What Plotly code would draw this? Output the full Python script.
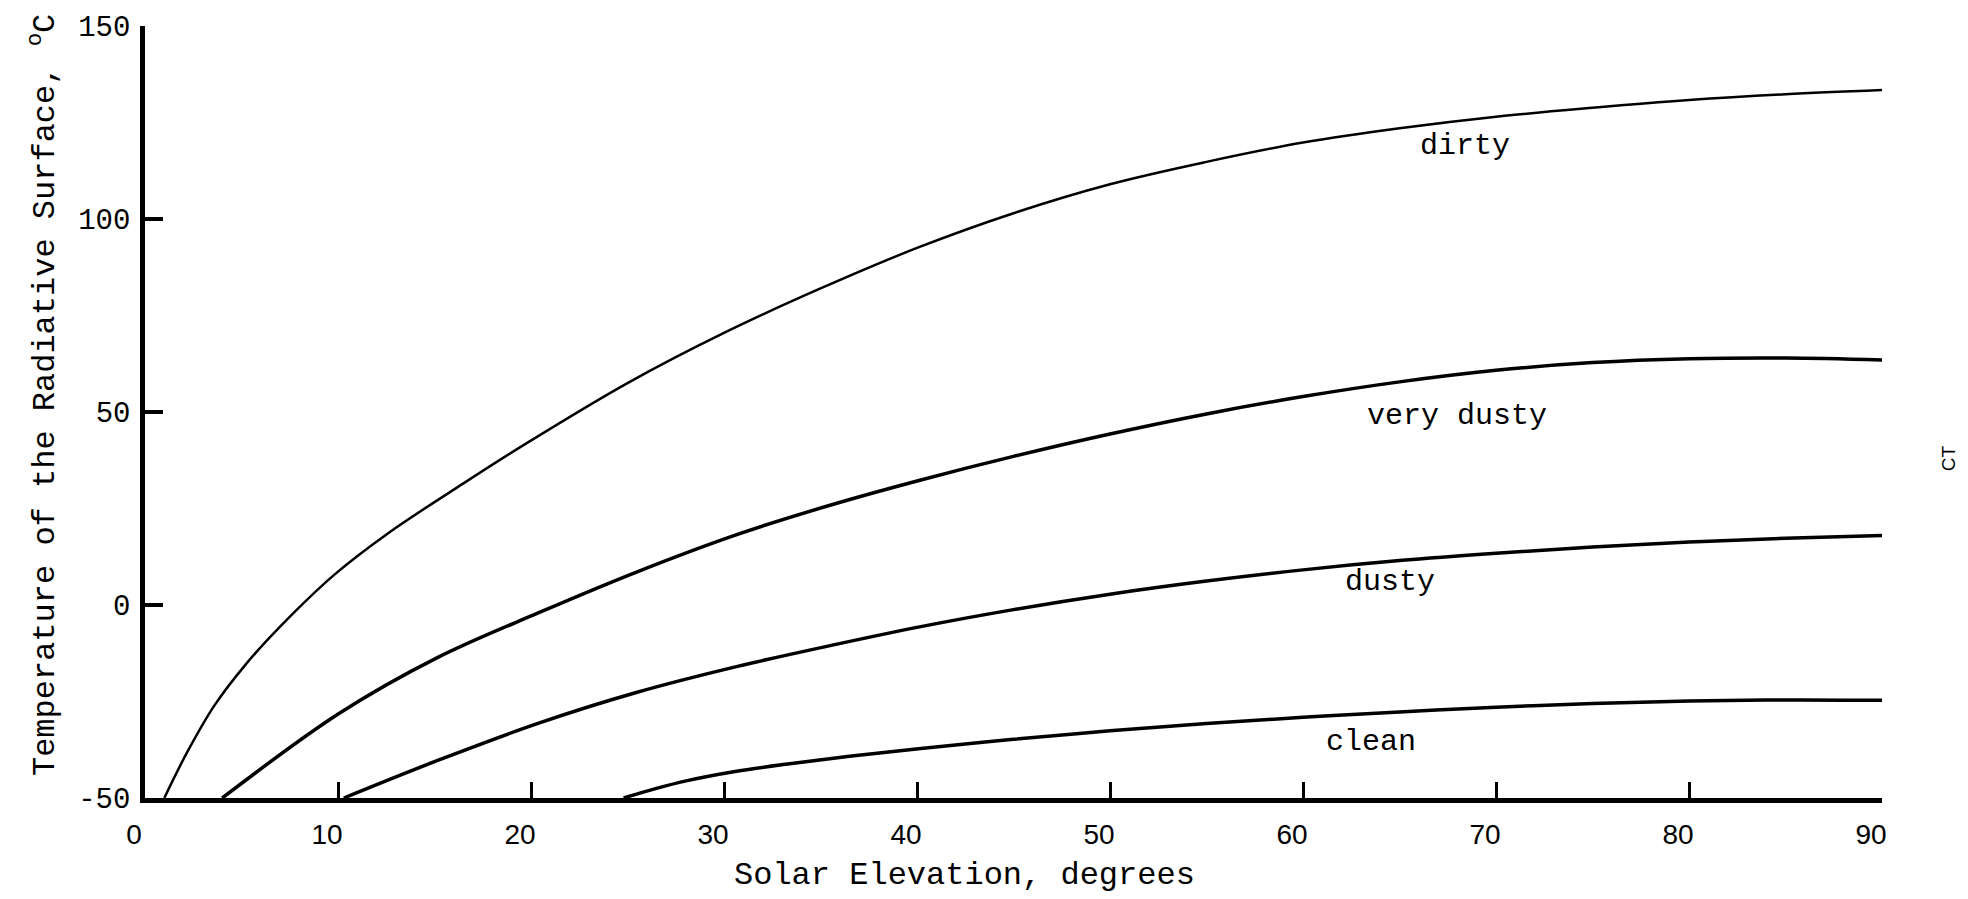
import plotly.graph_objects as go

# ---- data ----
dirty_x = [1.0, 2.2, 3.6, 5.2, 7.0, 9.8, 12.6, 16.5, 19.8, 25, 30, 35, 40, 45, 50, 55, 60, 65, 70, 75, 80, 85, 90]
dirty_y = [-50, -38.0, -26.0, -15.5, -5.6, 7.8, 18.6, 31.5, 42.0, 57.5, 70.5, 82.0, 92.5, 101.5, 109.0, 114.8, 119.8, 123.5, 126.5, 128.8, 130.8, 132.3, 133.4]

vdusty_x = [4.0, 10.05, 15.2, 20.4, 25.5, 30.7, 35.8, 40.2, 45, 50, 55, 60, 65, 70, 75, 80, 85, 90]
vdusty_y = [-50, -28.1, -13.5, -2.0, 8.6, 18.3, 26.3, 32.4, 38.5, 44.3, 49.5, 54.0, 57.8, 60.8, 62.8, 63.8, 64.0, 63.5]

dusty_x = [10.3, 15.2, 20.4, 25.5, 30.7, 35.8, 40.2, 45, 50, 55, 60, 65, 70, 75, 80, 85, 90]
dusty_y = [-50, -40.2, -30.6, -22.6, -15.9, -10.2, -5.6, -1.2, 2.8, 6.2, 9.1, 11.5, 13.4, 15.0, 16.3, 17.3, 18.0]

clean_x = [24.8, 26.5, 28.1, 30.5, 33.3, 36.5, 40.2, 45, 50, 55, 60, 65, 70, 75, 80, 85, 90]
clean_y = [-50, -47.5, -45.5, -43.2, -41.2, -39.2, -37.2, -34.8, -32.6, -30.7, -29.1, -27.7, -26.5, -25.5, -24.9, -24.6, -24.7]

label_text = ["dirty", "very dusty", "dusty", "clean"]
label_x = [68.4, 68.0, 64.5, 63.5]
label_y = [118.9, 49.0, 6.0, -35.5]

x_ticks = [0, 10, 20, 30, 40, 50, 60, 70, 80, 90]
y_ticks = [-50, 0, 50, 100, 150]

MONO = "Liberation Mono, Courier New, monospace"
SANS = "Liberation Sans, Arial, sans-serif"

fig = go.Figure()
series = [
    (dirty_x, dirty_y, 2.5),
    (vdusty_x, vdusty_y, 3.5),
    (dusty_x, dusty_y, 3.5),
    (clean_x, clean_y, 3.5),
]
for xs, ys, w in series:
    fig.add_trace(go.Scatter(x=xs, y=ys, mode="lines",
                             line=dict(color="black", width=w, shape="spline", smoothing=1.0),
                             showlegend=False, hoverinfo="skip"))

for t, lx, ly in zip(label_text, label_x, label_y):
    fig.add_annotation(x=lx, y=ly, xref="x", yref="y", text=t, showarrow=False,
                       font=dict(family=MONO, size=30, color="black"),
                       xanchor="center", yanchor="middle")

# axis titles
fig.add_annotation(x=-0.0587, y=0.522, xref="paper", yref="paper",
                   text="Temperature of the Radiative Surface, <sup>o</sup>C",
                   textangle=-90, showarrow=False, xanchor="center", yanchor="middle",
                   font=dict(family=MONO, size=32, color="black"))
fig.add_annotation(x=0.472, y=-0.10, xref="paper", yref="paper",
                   text="Solar Elevation, degrees", showarrow=False,
                   xanchor="center", yanchor="middle",
                   font=dict(family=MONO, size=32, color="black"))
# stray margin mark
fig.add_annotation(x=1.038, y=0.44, xref="paper", yref="paper", text="CT",
                   textangle=-90, showarrow=False, xanchor="center", yanchor="middle",
                   font=dict(family=SANS, size=19, color="black"))

fig.update_layout(
    width=1968, height=899,
    margin=dict(l=145, r=86, t=26, b=101),
    paper_bgcolor="white", plot_bgcolor="white",
    showlegend=False,
)
fig.update_xaxes(range=[0, 90], tickvals=x_ticks, ticktext=[str(v) for v in x_ticks],
                 showgrid=False, zeroline=False, showline=True, linecolor="black", linewidth=4.5,
                 ticks="inside", ticklen=16, tickwidth=2.5, tickcolor="black",
                 tickfont=dict(family=SANS, size=28, color="black"),
                 ticklabelstandoff=8, ticklabelshift=-11)
fig.update_yaxes(range=[-50, 150], tickvals=y_ticks, ticktext=[str(v) for v in y_ticks],
                 showgrid=False, zeroline=False, showline=True, linecolor="black", linewidth=4.5,
                 ticks="inside", ticklen=18, tickwidth=3.5, tickcolor="black",
                 tickfont=dict(family=MONO, size=29, color="black"),
                 ticklabelstandoff=4)

fig.write_html("out.html")
